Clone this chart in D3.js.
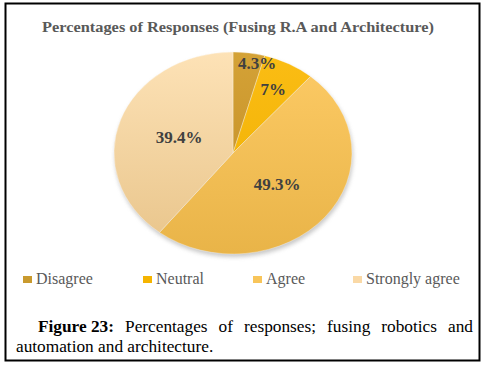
<!DOCTYPE html>
<html>
<head>
<meta charset="utf-8">
<script src="https://cdn.jsdelivr.net/npm/d3@7"></script>
<style>
  body { margin: 0; background: #fff; }
  svg { display: block; }
  svg text { font-family: "Times New Roman", "Liberation Serif", serif; }
</style>
</head>
<body>
<div id="chart"></div>
<script>
// data
const categories = ["Disagree", "Neutral", "Agree", "Strongly agree"];
const values = [4.3, 7, 49.3, 39.4];
const labels = ["4.3%", "7%", "49.3%", "39.4%"];
const titleText = "Percentages of Responses (Fusing R.A and Architecture)";
const captionBold = "Figure 23:";
const captionLine1 = "Percentages of responses; fusing robotics and";
const captionLine2 = "automation and architecture.";

// colours: [top, bottom] of each slice gradient
const sliceColors = [
  ["#d4a236", "#c08a24"],
  ["#fbbd14", "#eeae00"],
  ["#fdcb66", "#e9b448"],
  ["#fde2b6", "#e8c48a"],
];
const swatchColors = ["#c99a2e", "#f5b400", "#f8c55a", "#fad9a6"];

const width = 484;
const height = 365;

const svg = d3
  .select("#chart")
  .append("svg")
  .attr("width", width)
  .attr("height", height);

const defs = svg.append("defs");

//frame
svg
  .append("rect")
  .attr("x", 5.5)
  .attr("y", 3.5)
  .attr("width", 474)
  .attr("height", 357)
  .attr("fill", "#fff")
  .attr("stroke", "#000")
  .attr("stroke-width", 2);

//title
svg
  .append("text")
  .attr("x", 42)
  .attr("y", 32)
  .attr("font-weight", "bold")
  .attr("font-size", 14.5)
  .attr("fill", "#595959")
  .attr("textLength", 392)
  .attr("lengthAdjust", "spacingAndGlyphs")
  .text(titleText);

//pie
const cx = 233;
const cy = 153;
const rx = 119;
const ry = 101;

const pie = d3.pie().sort(null).value((d) => d);
const arcs = pie(values);
const arc = d3.arc().innerRadius(0).outerRadius(ry);

// shadow
const blur = defs.append("filter").attr("id", "shadow").attr("x", "-20%").attr("y", "-20%").attr("width", "140%").attr("height", "140%");
blur.append("feGaussianBlur").attr("stdDeviation", 2);

svg
  .append("ellipse")
  .attr("cx", cx + 1)
  .attr("cy", cy + 3)
  .attr("rx", rx)
  .attr("ry", ry)
  .attr("fill", "#9a9a9a")
  .attr("opacity", 0.55)
  .attr("filter", "url(#shadow)");

sliceColors.forEach((c, i) => {
  const g = defs
    .append("linearGradient")
    .attr("id", `grad${i}`)
    .attr("gradientUnits", "userSpaceOnUse")
    .attr("x1", 0)
    .attr("y1", -ry)
    .attr("x2", 0)
    .attr("y2", ry);
  g.append("stop").attr("offset", "0%").attr("stop-color", c[0]);
  g.append("stop").attr("offset", "100%").attr("stop-color", c[1]);
});

const gPie = svg
  .append("g")
  .attr("transform", `translate(${cx},${cy}) scale(${rx / ry},1)`);

gPie
  .selectAll("path.slice")
  .data(arcs)
  .join("path")
  .attr("class", "slice")
  .attr("d", arc)
  .attr("fill", (d, i) => `url(#grad${i})`)
  .attr("stroke", "rgba(255,255,255,0.5)")
  .attr("stroke-width", 0.6);

//labels, small slices pushed outward
const labelR = (d) => (d.value < 5 ? 0.9 : d.value < 10 ? 0.72 : 0.48);

const labelText = svg
  .selectAll("text.label")
  .data(arcs)
  .join("text")
  .attr("class", "label")
  .attr("y", (d) => {
    const a = (d.startAngle + d.endAngle) / 2;
    return cy - Math.cos(a) * ry * labelR(d);
  })
  .attr("dy", "0.35em")
  .attr("text-anchor", "middle")
  .attr("font-weight", "bold")
  .attr("font-size", 17)
  .attr("fill", "#404040")
  .text((d, i) => labels[i]);

// keep the first label right of the 12 o'clock line
labelText.attr("x", function (d) {
  const a = (d.startAngle + d.endAngle) / 2;
  let x = cx + Math.sin(a) * rx * labelR(d);
  if (d.startAngle === 0) x = Math.max(x, cx + 5 + this.getComputedTextLength() / 2);
  return x;
});

//legend
const legendLeft = [23, 143, 253, 353];

const gLegend = svg
  .selectAll("g.legend")
  .data(categories)
  .join("g")
  .attr("class", "legend")
  .attr("transform", (d, i) => `translate(${legendLeft[i]},276)`);

gLegend
  .append("rect")
  .attr("width", 9)
  .attr("height", 7)
  .attr("fill", (d, i) => swatchColors[i]);

gLegend
  .append("text")
  .attr("x", 13)
  .attr("y", 8)
  .attr("font-size", 16)
  .attr("fill", "#595959")
  .text((d) => d);

//caption line 1 justified word by word
const words1 = [captionBold].concat(captionLine1.split(" "));
const capLeft = 38;
const capRight = 473;
const cap = svg.append("g").attr("font-size", 17.3).attr("fill", "#000");

const wordNodes = cap
  .selectAll("text.w")
  .data(words1)
  .join("text")
  .attr("class", "w")
  .attr("y", 332)
  .attr("font-weight", (d, i) => (i === 0 ? "bold" : "normal"))
  .text((d) => d);

const widths = wordNodes.nodes().map((n) => n.getComputedTextLength());
const gap = (capRight - capLeft - d3.sum(widths)) / (words1.length - 1);
let xPos = capLeft;
wordNodes.attr("x", (d, i) => {
  const x = xPos;
  xPos += widths[i] + gap;
  return x;
});

cap
  .append("text")
  .attr("x", 16)
  .attr("y", 352)
  .text(captionLine2);
</script>
</body>
</html>
